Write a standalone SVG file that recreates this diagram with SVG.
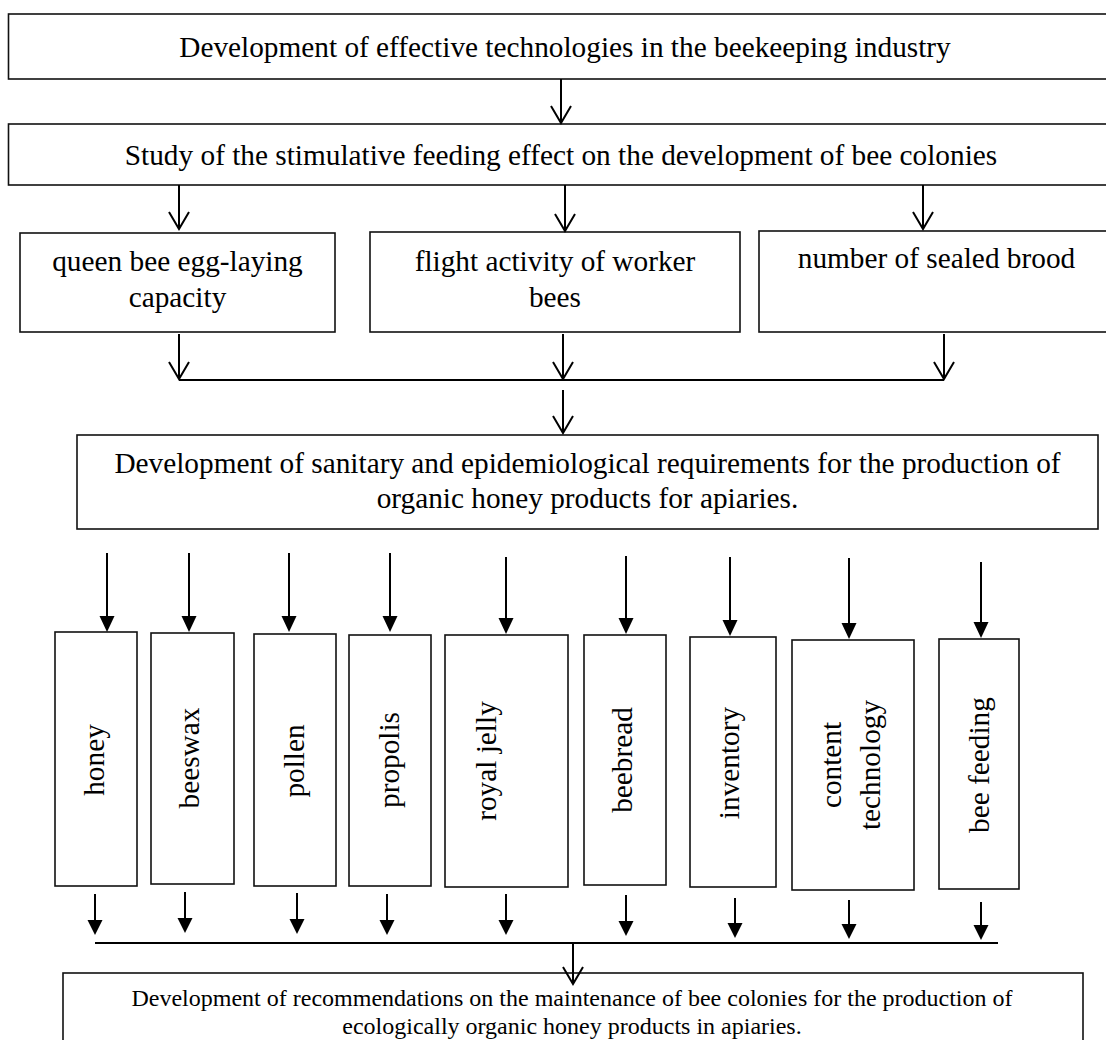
<svg xmlns="http://www.w3.org/2000/svg" width="1106" height="1040" viewBox="0 0 1106 1040">
<defs>
<style>
.box{fill:#fff;stroke:#111;stroke-width:1.6}
.t{font-family:"Liberation Serif","Times New Roman",serif;font-size:29.3px;fill:#000;text-anchor:middle}
.ts{font-family:"Liberation Serif","Times New Roman",serif;font-size:24px;fill:#000;text-anchor:middle}
.ln{stroke:#000;stroke-width:2;fill:none}
.fh{fill:#000;stroke:none}
</style>
</defs>
<rect width="1106" height="1040" fill="#fff"/>
<g id="n1"><rect class="box" x="8.5" y="14" width="1110" height="65"/><text class="t" x="565" y="57">Development of effective technologies in the beekeeping industry</text></g>
<g id="n2"><rect class="box" x="8.5" y="124" width="1110" height="61"/><text class="t" x="561" y="165">Study of the stimulative feeding effect on the development of bee colonies</text></g>
<g id="n3"><rect class="box" x="20" y="233" width="315" height="99"/><text class="t" x="177.5" y="271">queen bee egg-laying</text><text class="t" x="177.5" y="307">capacity</text></g>
<g id="n4"><rect class="box" x="370" y="232" width="370" height="100"/><text class="t" x="555" y="271">flight activity of worker</text><text class="t" x="555" y="307">bees</text></g>
<g id="n5"><rect class="box" x="759" y="231" width="360" height="101"/><text class="t" x="936.5" y="268">number of sealed brood</text></g>
<g id="n6"><rect class="box" x="77" y="435" width="1021" height="94"/><text class="t" x="587.5" y="473">Development of sanitary and epidemiological requirements for the production of</text><text class="t" x="587.5" y="508">organic honey products for apiaries.</text></g>
<g id="n7"><rect class="box" x="55" y="632" width="82" height="254"/><text class="t" transform="translate(104,760) rotate(-90)">honey</text></g>
<g id="n8"><rect class="box" x="151" y="633" width="83" height="251"/><text class="t" transform="translate(199,758) rotate(-90)">beeswax</text></g>
<g id="n9"><rect class="box" x="254" y="634" width="82" height="252"/><text class="t" transform="translate(304,761) rotate(-90)">pollen</text></g>
<g id="n10"><rect class="box" x="349" y="635" width="82" height="251"/><text class="t" transform="translate(399,760) rotate(-90)">propolis</text></g>
<g id="n11"><rect class="box" x="445" y="635" width="123" height="252"/><text class="t" transform="translate(496,761) rotate(-90)">royal jelly</text></g>
<g id="n12"><rect class="box" x="584" y="635" width="82" height="250"/><text class="t" transform="translate(632,760) rotate(-90)">beebread</text></g>
<g id="n13"><rect class="box" x="690" y="637" width="86" height="250"/><text class="t" transform="translate(739,763) rotate(-90)">inventory</text></g>
<g id="n14"><rect class="box" x="792" y="640" width="122" height="250"/><text class="t" transform="translate(841,765) rotate(-90)">content</text><text class="t" transform="translate(880,765) rotate(-90)">technology</text></g>
<g id="n15"><rect class="box" x="939" y="639" width="80" height="250"/><text class="t" transform="translate(989,765) rotate(-90)">bee feeding</text></g>
<g id="n16"><rect class="box" x="63" y="973" width="1020" height="90"/><text class="ts" x="572" y="1006">Development of recommendations on the maintenance of bee colonies for the production of</text><text class="ts" x="572" y="1034">ecologically organic honey products in apiaries.</text></g>
<g id="connectors">
<path class="ln" d="M561 79V123M551 106L561 123L571 106"/>
<path class="ln" d="M179 185V229M169 212L179 229L189 212"/>
<path class="ln" d="M565 185V231M555 214L565 231L575 214"/>
<path class="ln" d="M923 185V229M913 212L923 229L933 212"/>
<path class="ln" d="M179 334V379M169 362L179 379L189 362"/>
<path class="ln" d="M563 334V379M553 362L563 379L573 362"/>
<path class="ln" d="M944 334V379M934 362L944 379L954 362"/>
<path class="ln" d="M179 380H944"/>
<path class="ln" d="M563 390V433M553 416L563 433L573 416"/>
<g>
<path class="ln" d="M107 553V618"/><path class="fh" d="M99.5 616H114.5L107 632Z"/>
<path class="ln" d="M189 553V618"/><path class="fh" d="M181.5 616H196.5L189 632Z"/>
<path class="ln" d="M289 553V618"/><path class="fh" d="M281.5 616H296.5L289 632Z"/>
<path class="ln" d="M390 553V618"/><path class="fh" d="M382.5 616H397.5L390 632Z"/>
<path class="ln" d="M506 557V620"/><path class="fh" d="M498.5 618H513.5L506 634Z"/>
<path class="ln" d="M626 556V620"/><path class="fh" d="M618.5 618H633.5L626 634Z"/>
<path class="ln" d="M730 557V622"/><path class="fh" d="M722.5 620H737.5L730 636Z"/>
<path class="ln" d="M849 558V625"/><path class="fh" d="M841.5 623H856.5L849 639Z"/>
<path class="ln" d="M981 562V624"/><path class="fh" d="M973.5 622H988.5L981 638Z"/>
</g>
<g>
<path class="ln" d="M95 894V922"/><path class="fh" d="M87.5 920H102.5L95 935Z"/>
<path class="ln" d="M185 892V920"/><path class="fh" d="M177.5 918H192.5L185 933Z"/>
<path class="ln" d="M297 893V921"/><path class="fh" d="M289.5 919H304.5L297 934Z"/>
<path class="ln" d="M387 894V922"/><path class="fh" d="M379.5 920H394.5L387 935Z"/>
<path class="ln" d="M506 894V922"/><path class="fh" d="M498.5 920H513.5L506 935Z"/>
<path class="ln" d="M626 895V923"/><path class="fh" d="M618.5 921H633.5L626 936Z"/>
<path class="ln" d="M735 898V925"/><path class="fh" d="M727.5 923H742.5L735 938Z"/>
<path class="ln" d="M849 900V926"/><path class="fh" d="M841.5 924H856.5L849 939Z"/>
<path class="ln" d="M981 902V927"/><path class="fh" d="M973.5 925H988.5L981 940Z"/>
</g>
<path class="ln" d="M95 943H998"/>
<path class="ln" d="M573 943V984M563 967L573 984L583 967"/>
</g>
</svg>
